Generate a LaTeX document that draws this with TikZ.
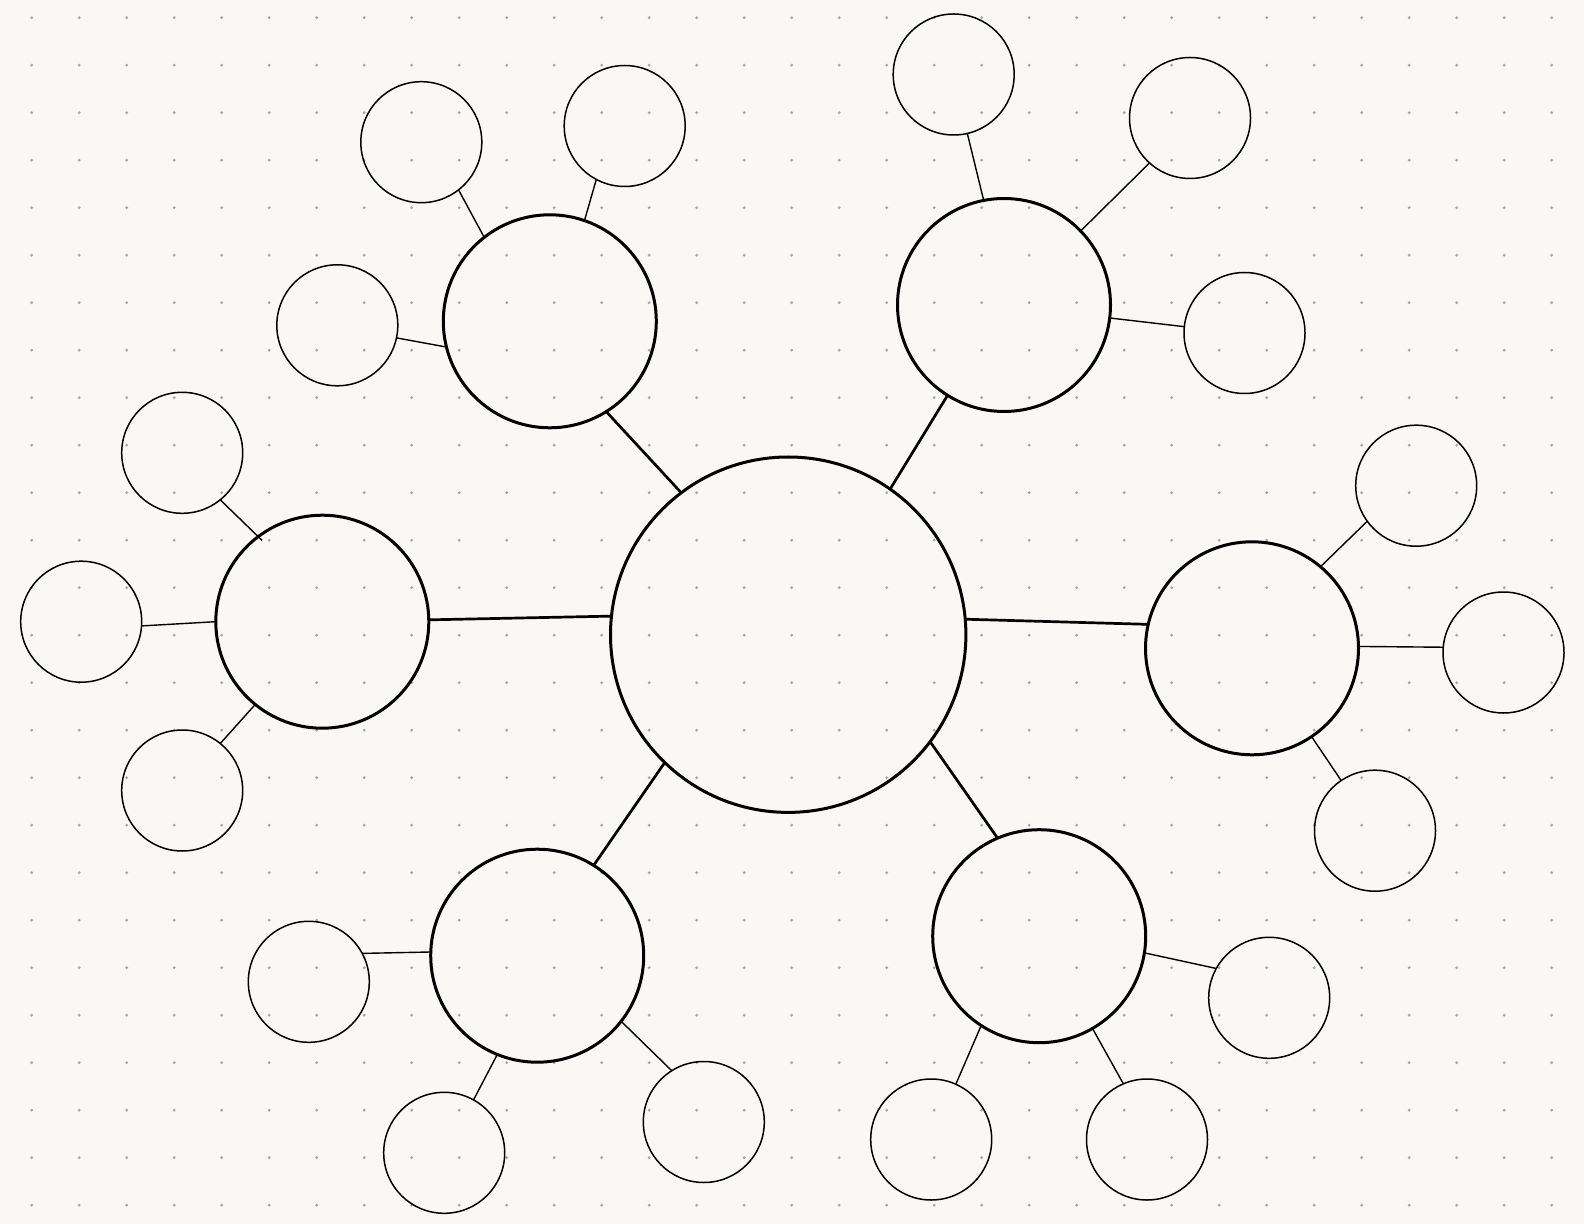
\documentclass[tikz,border=0pt]{standalone}
\definecolor{paper}{HTML}{FAF8F4}
\definecolor{dotc}{HTML}{A9A7A3}
\tikzset{
  bubble/.style={circle, draw=black, inner sep=0pt, outer sep=0pt},
  leaf/.style={bubble, line width=0.75pt, minimum size=60.5pt},
  branch/.style={bubble, line width=1.5pt, minimum size=106.5pt},
  hub/.style={bubble, line width=1.5pt, minimum size=177.7pt},
  mainlink/.style={line width=1.35pt},
  leaflink/.style={line width=0.7pt}
}
\begin{document}
\begin{tikzpicture}[x=0.5pt,y=-0.5pt]
\fill[paper] (0,0) rectangle (1584,1224);
\useasboundingbox (0,0) rectangle (1584,1224);
\foreach \i in {0,...,32}{
  \foreach \j in {0,...,25}{
    \fill[dotc] (31.7+47.5*\i, 17.7+47.5*\j) circle (0.78pt);
  }
}
% hub
\node[hub] (C0) at (788.2,634.7) {};
% branches
\node[branch] (M1) at (549.8,321.3) {};
\node[branch] (M2) at (1004,305) {};
\node[branch] (M3) at (322.3,621.7) {};
\node[branch] (M4) at (1252,648.3) {};
\node[branch] (M5) at (537.2,955.7) {};
\node[branch] (M6) at (1039.2,936.2) {};
% leaves
\node[leaf] (A) at (421.3,142.2) {};
\node[leaf] (B) at (624.7,126) {};
\node[leaf] (C) at (337.3,325.3) {};
\node[leaf] (D) at (953.7,74.5) {};
\node[leaf] (E) at (1190,118) {};
\node[leaf] (F) at (1244.5,333) {};
\node[leaf] (G) at (182.2,452.8) {};
\node[leaf] (H) at (81.2,621.7) {};
\node[leaf] (I) at (182.2,790.5) {};
\node[leaf] (J) at (1416.2,485.7) {};
\node[leaf] (K) at (1503.5,652.5) {};
\node[leaf] (L) at (1375,830.7) {};
\node[leaf] (N) at (308.8,981.8) {};
\node[leaf] (O) at (444.2,1152.8) {};
\node[leaf] (P) at (703.8,1122) {};
\node[leaf] (Q) at (1269.2,997.8) {};
\node[leaf] (R) at (931.2,1139.5) {};
\node[leaf] (S) at (1147,1139.5) {};
% hub links
\draw[mainlink] (M1.-58) -- (C0.127);
\draw[mainlink] (M2.-122) -- (C0.55);
\draw[mainlink] (M3.1.3) -- (C0.174.5);
\draw[mainlink] (M4.167.6) -- (C0.5.7);
\draw[mainlink] (M5.58.5) -- (C0.-134.4);
\draw[mainlink] (M6.113.6) -- (C0.-37.1);
% leaf links
\draw[leaflink] (A.-52.5) -- (M1.128);
\draw[leaflink] (B.-118.9) -- (M1.71.9);
\draw[leaflink] (C.-12.4) -- (M1.-166);
\draw[leaflink] (D.-77.7) -- (M2.101.3);
\draw[leaflink] (E.-132) -- (M2.44.7);
\draw[leaflink] (F.174.7) -- (M2.-7.9);
\draw[leaflink, shorten >=-2.7pt] (G.-51.8) -- (M3.127.1);
\draw[leaflink] (H.-4.7) -- (M3.180);
\draw[leaflink] (I.51.4) -- (M3.-129.6);
\draw[leaflink] (J.-144.5) -- (M4.50.2);
\draw[leaflink] (K.175.8) -- (M4.1.6);
\draw[leaflink] (L.124) -- (M4.-56.5);
\draw[leaflink] (N.28.3) -- (M5.178.4);
\draw[leaflink] (O.61) -- (M5.-112.2);
\draw[leaflink] (P.122.1) -- (M5.-38);
\draw[leaflink] (Q.151.8) -- (M6.-9.9);
\draw[leaflink] (R.66.8) -- (M6.-123.5);
\draw[leaflink] (S.113.6) -- (M6.-60.7);
\end{tikzpicture}
\end{document}
